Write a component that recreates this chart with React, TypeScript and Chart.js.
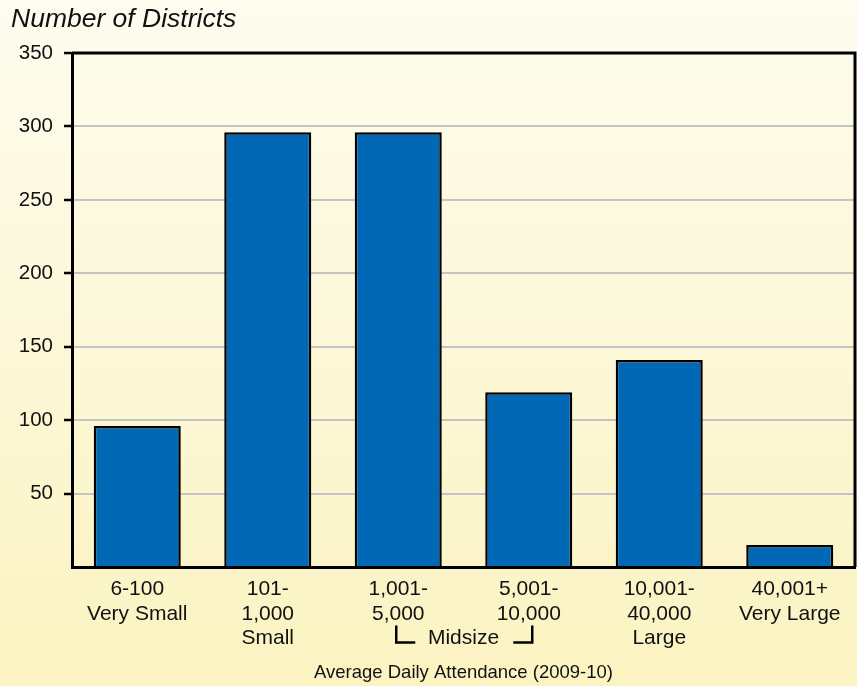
import React, { useEffect, useRef } from "react";
import { Chart, registerables } from "chart.js";

Chart.register(...registerables);

const categories: string[][] = [
  ["6-100", "Very Small"],
  ["101-", "1,000", "Small"],
  ["1,001-", "5,000"],
  ["5,001-", "10,000"],
  ["10,001-", "40,000", "Large"],
  ["40,001+", "Very Large"],
];
const districtCounts = [96, 296, 296, 119, 141, 15];
const yMin = 0;
const yMax = 350;
const yStep = 50;
const yTitle = "Number of Districts";
const xTitle = "Average Daily Attendance (2009-10)";
const groupLabel = "Midsize";
const groupRange = [2, 3];

const FONT = "'Liberation Sans', Arial, Helvetica, sans-serif";
const TICK_SIZE = 21;
const LINE_H = 1.17;
const TICK_PAD = 10;

const decorPlugin = {
  id: "decor",
  beforeDraw(chart: any) {
    const { ctx, width, height } = chart;
    ctx.save();
    const g = ctx.createLinearGradient(0, 0, 0, height);
    g.addColorStop(0, "#fefcef");
    g.addColorStop(1, "#fbf3c1");
    ctx.fillStyle = g;
    ctx.fillRect(0, 0, width, height);
    ctx.restore();
  },
  afterDraw(chart: any) {
    const { ctx, chartArea } = chart;
    const x = chart.scales.x;
    ctx.save();
    // frame top & right
    ctx.strokeStyle = "#000";
    ctx.lineWidth = 3;
    ctx.beginPath();
    ctx.moveTo(chartArea.left, chartArea.top);
    ctx.lineTo(chartArea.right, chartArea.top);
    ctx.lineTo(chartArea.right, chartArea.bottom);
    ctx.stroke();

    // y title
    ctx.fillStyle = "#111";
    ctx.font = `italic 26.5px ${FONT}`;
    ctx.textAlign = "left";
    ctx.textBaseline = "alphabetic";
    ctx.fillText(yTitle, 11, 27);

    // x title
    ctx.textBaseline = "middle";
    ctx.font = `18.5px ${FONT}`;
    ctx.textAlign = "center";
    ctx.fillText(xTitle, (chartArea.left + chartArea.right) / 2, 673);

    // group bracket
    const lh = TICK_SIZE * LINE_H;
    const yLine = chartArea.bottom + TICK_PAD + lh * 2.5;
    const xa = x.getPixelForValue(groupRange[0]);
    const xb = x.getPixelForValue(groupRange[1]);
    ctx.font = `${TICK_SIZE}px ${FONT}`;
    ctx.fillText(groupLabel, (xa + xb) / 2, yLine);
    ctx.lineWidth = 2.5;
    ctx.beginPath();
    ctx.moveTo(xa - 2, yLine - 13);
    ctx.lineTo(xa - 2, yLine + 4);
    ctx.lineTo(xa + 17, yLine + 4);
    ctx.moveTo(xb + 3.5, yLine - 13);
    ctx.lineTo(xb + 3.5, yLine + 4);
    ctx.lineTo(xb - 15.5, yLine + 4);
    ctx.stroke();
    ctx.restore();
  },
};

export default function App() {
  const ref = useRef<HTMLCanvasElement>(null);
  useEffect(() => {
    document.body.style.margin = "0";
    const chart = new Chart(ref.current!, {
      type: "bar",
      data: {
        labels: categories,
        datasets: [
          {
            data: districtCounts,
            backgroundColor: "#0068b4",
            borderColor: "#000",
            borderWidth: 2.5,
            barPercentage: 0.667,
            categoryPercentage: 1,
          },
        ],
      },
      options: {
        animation: false,
        responsive: false,
        maintainAspectRatio: false,
        layout: { padding: { top: 53, right: 2, left: 0, bottom: 0 } },
        plugins: { legend: { display: false }, tooltip: { enabled: false } },
        scales: {
          x: {
            grid: { display: false, drawTicks: false },
            border: { color: "#000", width: 3 },
            ticks: {
              color: "#111",
              padding: TICK_PAD,
              maxRotation: 0,
              autoSkip: false,
              font: { family: FONT, size: TICK_SIZE, lineHeight: LINE_H },
            },
            afterFit: (s: any) => {
              s.height = 686 - 567;
            },
          },
          y: {
            min: yMin,
            max: yMax,
            ticks: {
              stepSize: yStep,
              color: "#111",
              padding: 11,
              font: { family: FONT, size: 20.5 },
              callback: (v: any) => (v === 0 ? "" : String(v)),
            },
            grid: {
              color: (c: any) => (c.tick && (c.tick.value === 350 || c.tick.value === 0) ? "rgba(0,0,0,0)" : "#c4c4c4"),
              lineWidth: 2,
              tickColor: (c: any) => (c.tick && c.tick.value === 0 ? "rgba(0,0,0,0)" : "#000"),
              tickLength: 8,
              tickWidth: 2.5,
            },
            border: { color: "#000", width: 3 },
            afterFit: (s: any) => {
              s.width = 72;
            },
          },
        },
      },
      plugins: [decorPlugin],
    });
    return () => chart.destroy();
  }, []);
  return (
    <div style={{ width: 857, height: 686 }}>
      <canvas ref={ref} width={857} height={686} style={{ display: "block" }} />
    </div>
  );
}
